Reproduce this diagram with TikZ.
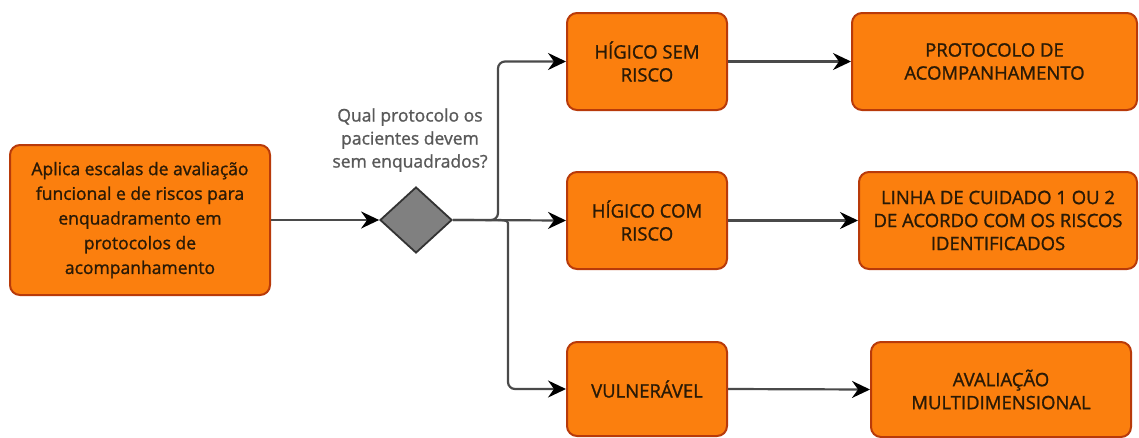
\documentclass[tikz,border=0pt]{standalone}
\usepackage{fontspec}
\setmainfont{Open Sans}[FakeBold=1.2]
\usetikzlibrary{shapes.geometric,arrows.meta}
\definecolor{boxfill}{HTML}{FB7F0E}
\definecolor{boxdraw}{HTML}{B83A0A}
\definecolor{txt}{HTML}{2A1A06}
\definecolor{linec}{HTML}{4A4A4A}
\tikzset{
  box/.style={draw=boxdraw, fill=boxfill, line width=2pt, rounded corners=10pt,
    align=center, text=txt, inner sep=0pt, font=\fontsize{18.5}{23}\selectfont},
  conn/.style={draw=linec, line width=2.2pt, -{Stealth[length=18pt,width=17pt,inset=6pt,black]}, rounded corners=7pt},
}
\begin{document}
\begin{tikzpicture}[x=1pt,y=-1pt]
\useasboundingbox (0,0) rectangle (1139,437);
\node[box, minimum width=260pt, minimum height=150pt, font=\fontsize{17.5}{24.7}\selectfont] (start) at (140,220)
  {Aplica escalas de avaliação\\funcional e de riscos para\\enquadramento em\\protocolos de\\acompanhamento};
\node[diamond, draw=black!80, fill=black!50, line width=1.8pt, minimum width=72pt, minimum height=66pt, aspect=1.09, inner sep=0pt] (dia) at (416,220) {};
\node[align=center, text=black!65, font=\fontsize{17.5}{23}\selectfont] (q) at (410,140)
  {Qual protocolo os\\pacientes devem\\sem enquadrados?};
\node[box, minimum width=160pt, minimum height=97pt] (h1) at (647,61.5) {HÍGICO SEM\\RISCO};
\node[box, minimum width=160pt, minimum height=97pt] (h2) at (647,220.5) {HÍGICO COM\\RISCO};
\node[box, minimum width=160pt, minimum height=94pt] (h3) at (647,389) {VULNERÁVEL};
\node[box, minimum width=285pt, minimum height=97pt] (p1) at (994.5,61.5) {PROTOCOLO DE\\ACOMPANHAMENTO};
\node[box, minimum width=278pt, minimum height=97pt] (p2) at (998,220.5) {LINHA DE CUIDADO 1 OU 2\\DE ACORDO COM OS RISCOS\\IDENTIFICADOS};
\node[box, minimum width=260pt, minimum height=95pt] (p3) at (1001,389.5) {AVALIAÇÃO\\MULTIDIMENSIONAL};
\coordinate (split) at (498,220);
\coordinate (hop) at (508,230);
\draw[conn] (start.east) -- (dia.west);
\draw[conn] (dia.east) -- (h2.west);
\draw[conn] (dia.east) -- (split) -- (split |- h1.west) -- (h1.west);
\draw[conn] (split) .. controls (508,220) and (508,222) .. (hop) -- (hop |- h3.west) -- (h3.west);
\draw[conn] (h1.east) -- (p1.west);
\draw[conn] (h2.east) -- (p2.west);
\draw[conn] (h3.east) -- (p3.west);
\end{tikzpicture}
\end{document}
